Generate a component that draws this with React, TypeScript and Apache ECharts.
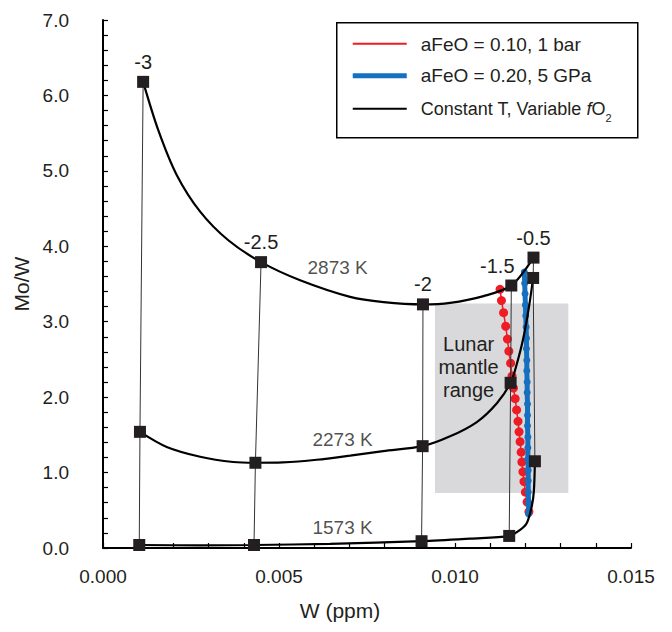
import React, { useEffect, useRef } from "react";
import * as echarts from "echarts";

// fO2 isopleth labels (log units) and marker positions for each temperature
const isoLabels = ["-3", "-2.5", "-2", "-1.5", "-0.5"];
const isoW2873 = [0.00114, 0.00449, 0.00909, 0.0116, 0.01223];
const isoMo2873 = [6.18, 3.79, 3.23, 3.48, 3.85];
const isoW2273 = [0.00105, 0.00433, 0.00908, 0.01158, 0.01222];
const isoMo2273 = [1.54, 1.13, 1.35, 2.19, 3.58];
const isoW1573 = [0.00103, 0.00429, 0.00905, 0.01154, 0.01227];
const isoMo1573 = [0.04, 0.04, 0.09, 0.16, 1.15];

// constant-T curves
const curve2873W = [0.00114, 0.00157, 0.00209, 0.00276, 0.00356, 0.00449, 0.0056, 0.00702, 0.00797, 0.00909, 0.00986, 0.01081, 0.0116, 0.01223];
const curve2873Mo = [6.18, 5.54, 4.95, 4.46, 4.08, 3.79, 3.55, 3.33, 3.26, 3.23, 3.25, 3.34, 3.48, 3.85];
const curve2273W = [0.00105, 0.00181, 0.00276, 0.0037, 0.00433, 0.00511, 0.00607, 0.00702, 0.00796, 0.00908, 0.00986, 0.01062, 0.01119, 0.01158, 0.01175, 0.01194, 0.01211, 0.01222];
const curve2273Mo = [1.54, 1.34, 1.21, 1.14, 1.13, 1.135, 1.17, 1.225, 1.285, 1.35, 1.48, 1.67, 1.92, 2.19, 2.43, 2.78, 3.22, 3.58];
const curve1573W = [0.00103, 0.00276, 0.00429, 0.00645, 0.00905, 0.01043, 0.01154, 0.01185, 0.01204, 0.01218, 0.01224, 0.01227];
const curve1573Mo = [0.04, 0.035, 0.04, 0.055, 0.09, 0.125, 0.16, 0.24, 0.33, 0.55, 0.75, 1.15];

// aFeO = 0.10, 1 bar
const redW = [0.01128, 0.01132, 0.01138, 0.01144, 0.01149, 0.01153, 0.01158, 0.01162, 0.01166, 0.01171, 0.01175, 0.01179, 0.01182, 0.01185, 0.01188, 0.0119, 0.01193, 0.01196, 0.012, 0.01205, 0.0121];
const redMo = [3.43, 3.28, 3.12, 2.94, 2.77, 2.61, 2.45, 2.28, 2.12, 1.98, 1.83, 1.68, 1.54, 1.41, 1.27, 1.14, 1.01, 0.88, 0.74, 0.61, 0.48];

// aFeO = 0.20, 5 GPa
const blueW = [0.01197, 0.01198, 0.01199, 0.012, 0.01201, 0.01202, 0.01203, 0.01203, 0.01204, 0.01204, 0.01205, 0.01205, 0.01206, 0.01206, 0.01206, 0.01207, 0.01207, 0.01207, 0.01208, 0.01208, 0.01208, 0.01209, 0.01209];
const blueMo = [3.66, 3.51, 3.37, 3.22, 3.08, 2.93, 2.78, 2.64, 2.49, 2.35, 2.2, 2.06, 1.91, 1.76, 1.62, 1.47, 1.33, 1.18, 1.03, 0.89, 0.74, 0.6, 0.45];

// lunar mantle range box
const lunarW = [0.00943, 0.01322];
const lunarMo = [0.73, 3.24];

// temperature labels
const tempNames = ["2873 K", "2273 K", "1573 K"];
const tempW = [0.00668, 0.00682, 0.00682];
const tempMo = [3.71, 1.43, 0.265];

const FONT = "Liberation Sans, Arial, Helvetica, sans-serif";
const INK = "#231f20";

const zip = (a: number[], b: number[]) => a.map((v, i) => [v, b[i]]);

export default function App() {
  const ref = useRef<HTMLDivElement>(null);
  useEffect(() => {
    if (!ref.current) return;
    const chart = echarts.init(ref.current, undefined, { renderer: "svg" });

    const curveSeries = (name: string, w: number[], mo: number[]) => ({
      name,
      type: "line",
      data: zip(w, mo),
      smooth: 0.3,
      showSymbol: false,
      symbol: "none",
      lineStyle: { color: "#000", width: 2.2 },
      z: 4,
      silent: true,
    });

    const isoSeries = isoLabels.map((lab, i) => ({
      name: "fO2 " + lab,
      type: "line",
      data: [
        [isoW1573[i], isoMo1573[i]],
        [isoW2273[i], isoMo2273[i]],
        {
          value: [isoW2873[i], isoMo2873[i]],
          label: {
            show: true,
            position: "top",
            distance: 4,
            formatter: lab,
            fontSize: 20,
            fontFamily: FONT,
            color: INK,
            offset: lab === "-1.5" ? [-14, 0] : [0, 0],
          },
        },
      ],
      symbol: "rect",
      symbolSize: 12,
      showSymbol: true,
      itemStyle: { color: INK },
      lineStyle: { color: "#333", width: 1 },
      z: 6,
      silent: true,
    }));

    const option: any = {
      animation: false,
      backgroundColor: "#ffffff",
      textStyle: { fontFamily: FONT },
      grid: { left: 103, right: 41, top: 20, bottom: 84, containLabel: false },
      xAxis: {
        type: "value",
        min: 0,
        max: 0.015,
        interval: 0.005,
        name: "W (ppm)",
        nameLocation: "middle",
        nameGap: 52,
        nameTextStyle: { fontSize: 21, color: INK, fontFamily: FONT, padding: [0, 54, 0, 0] },
        axisLine: { onZero: false, lineStyle: { color: "#000", width: 2 } },
        axisTick: { inside: true, length: 5, lineStyle: { color: "#000", width: 1.2 } },
        minorTick: { show: true, splitNumber: 5, length: 5, lineStyle: { color: "#000", width: 1.2 } },
        splitLine: { show: false },
        axisLabel: { formatter: (v: number) => v.toFixed(3), fontSize: 19, color: INK, fontFamily: FONT, margin: 19 },
      },
      yAxis: {
        type: "value",
        min: 0,
        max: 7,
        interval: 1,
        name: "Mo/W",
        nameLocation: "middle",
        nameGap: 71,
        nameTextStyle: { fontSize: 21, color: INK, fontFamily: FONT },
        axisLine: { onZero: false, lineStyle: { color: "#000", width: 2 } },
        axisTick: { inside: true, length: 5, lineStyle: { color: "#000", width: 1.2 } },
        minorTick: { show: true, splitNumber: 5, length: 5, lineStyle: { color: "#000", width: 1.2 } },
        splitLine: { show: false },
        axisLabel: { formatter: (v: number) => v.toFixed(1), fontSize: 19, color: INK, fontFamily: FONT, margin: 34 },
      },
      series: [
        {
          name: "Lunar mantle range",
          type: "line",
          data: [],
          silent: true,
          z: 1,
          markArea: {
            silent: true,
            itemStyle: { color: "#d9d9db" },
            label: {
              show: true,
              position: "insideTop",
              offset: [-33, 24],
              formatter: "Lunar\nmantle\nrange",
              fontSize: 20,
              lineHeight: 23,
              align: "center",
              color: INK,
              fontFamily: FONT,
            },
            data: [[{ coord: [lunarW[0], lunarMo[1]] }, { coord: [lunarW[1], lunarMo[0]] }]],
          },
        },
        {
          name: "aFeO = 0.10, 1 bar",
          type: "line",
          data: zip(redW, redMo),
          symbol: "circle",
          symbolSize: 9,
          showSymbol: true,
          itemStyle: { color: "#ee1c25" },
          lineStyle: { color: "#ee1c25", width: 1.5 },
          z: 2,
          silent: true,
        },
        {
          name: "aFeO = 0.20, 5 GPa",
          type: "line",
          data: zip(blueW, blueMo),
          symbol: "circle",
          symbolSize: 7,
          showSymbol: true,
          itemStyle: { color: "#1570bf" },
          lineStyle: { color: "#1570bf", width: 5 },
          z: 3,
          silent: true,
        },
        curveSeries("2873 K", curve2873W, curve2873Mo),
        curveSeries("2273 K", curve2273W, curve2273Mo),
        curveSeries("1573 K", curve1573W, curve1573Mo),
        ...isoSeries,
        {
          name: "Temperature labels",
          type: "scatter",
          symbol: "circle",
          symbolSize: 1,
          itemStyle: { color: "rgba(0,0,0,0)" },
          silent: true,
          z: 7,
          data: tempNames.map((n, i) => ({ name: n, value: [tempW[i], tempMo[i]] })),
          label: {
            show: true,
            position: [0, 0],
            align: "center",
            verticalAlign: "middle",
            formatter: (p: any) => p.name,
            fontSize: 19,
            color: INK,
            fontFamily: FONT,
          },
        },
      ],
      graphic: [
        {
          type: "group",
          left: 336,
          top: 22,
          children: [
            { type: "rect", shape: { x: 0, y: 0, width: 301, height: 115 }, style: { fill: "#fff", stroke: "#000", lineWidth: 1.5 } },
            { type: "line", shape: { x1: 16, y1: 21, x2: 70, y2: 21 }, style: { stroke: "#ee1c25", lineWidth: 2 } },
            { type: "line", shape: { x1: 16, y1: 53, x2: 70, y2: 53 }, style: { stroke: "#1570bf", lineWidth: 5 } },
            { type: "line", shape: { x1: 16, y1: 86, x2: 70, y2: 86 }, style: { stroke: "#000", lineWidth: 2 } },
            { type: "text", x: 84, y: 22, style: { text: "aFeO = 0.10, 1 bar", fontSize: 19, fontFamily: FONT, fill: INK, verticalAlign: "middle" } },
            { type: "text", x: 84, y: 53, style: { text: "aFeO = 0.20, 5 GPa", fontSize: 19, fontFamily: FONT, fill: INK, verticalAlign: "middle" } },
            {
              type: "text",
              x: 84,
              y: 86,
              style: {
                text: "Constant T, Variable {i|f}O{s|2}",
                fontSize: 18,
                fontFamily: FONT,
                fill: INK,
                verticalAlign: "middle",
                rich: {
                  i: { fontStyle: "italic", fontSize: 18, fontFamily: FONT, fill: INK },
                  s: { fontSize: 11, fontFamily: FONT, fill: INK, verticalAlign: "bottom", lineHeight: 30 },
                },
              },
            },
          ],
        },
      ],
    };

    chart.setOption(option);
    return () => chart.dispose();
  }, []);

  return (
    <div
      ref={ref}
      style={{ position: "fixed", left: 0, top: 0, width: 672, height: 632, background: "#fff" }}
    />
  );
}
